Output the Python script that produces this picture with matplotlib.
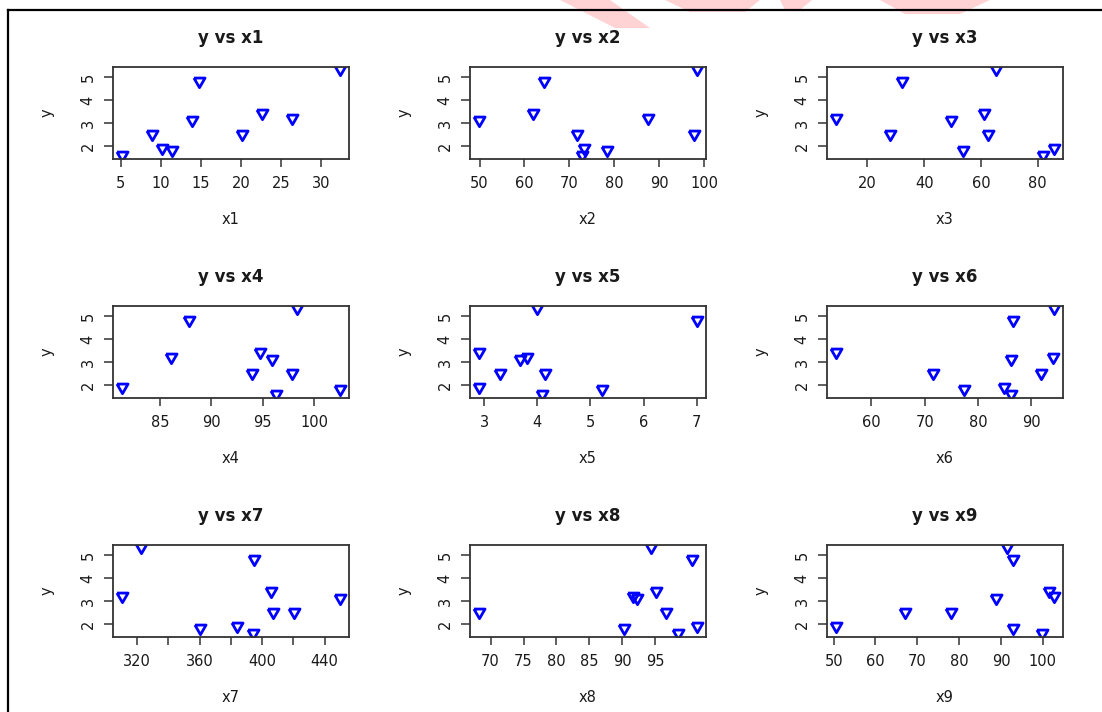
import numpy as np
import matplotlib
matplotlib.use("Agg")
import matplotlib.pyplot as plt
from matplotlib.lines import Line2D
from matplotlib.patches import Polygon

# response, same order for every predictor
y = [1.6, 1.8, 1.9, 2.5, 2.5, 3.1, 3.2, 3.4, 4.8, 5.3]

x1 = [5.1, 11.4, 10.1, 8.9, 20.1, 13.9, 26.3, 22.6, 14.7, 32.3]
x2 = [72.8, 78.3, 73.2, 71.6, 97.8, 49.8, 87.6, 61.9, 64.3, 98.4]
x3 = [81.8, 53.8, 85.7, 27.9, 62.6, 49.6, 8.8, 61.2, 32.3, 65.3]
x4 = [96.3, 102.5, 81.3, 94.0, 97.9, 95.9, 86.1, 94.7, 87.8, 98.3]
x5 = [4.09, 5.21, 2.90, 3.30, 4.14, 3.68, 3.81, 2.90, 7.0, 4.0]
x6 = [86.2, 77.3, 84.9, 71.6, 91.8, 86.2, 94.1, 53.3, 86.5, 94.2]
x7 = [394.0, 360.5, 383.7, 407.1, 420.6, 449.7, 310.1, 405.8, 395.0, 322.4]
x8 = [98.5, 90.25, 101.3, 68.2, 96.6, 92.3, 91.6, 95.05, 100.6, 94.4]
x9 = [99.8, 92.8, 50.5, 67.0, 78.0, 88.8, 102.6, 101.4, 92.8, 91.5]

names = ["x1", "x2", "x3", "x4", "x5", "x6", "x7", "x8", "x9"]
xs = [x1, x2, x3, x4, x5, x6, x7, x8, x9]

xticks = [
    [5, 10, 15, 20, 25, 30],
    [50, 60, 70, 80, 90, 100],
    [20, 40, 60, 80],
    [85, 90, 95, 100],
    [3, 4, 5, 6, 7],
    [60, 70, 80, 90],
    [320, 340, 360, 380, 400, 420, 440],
    [70, 75, 80, 85, 90, 95],
    [50, 60, 70, 80, 90, 100],
]
yticks = [2, 3, 4, 5]

W, H = 1102, 712
fig = plt.figure(figsize=(W / 100, H / 100), dpi=100)
fig.patch.set_facecolor("white")

# triangle pointing down, like R pch = 6
tri = [(-1, 0.8), (1, 0.8), (0, -0.93), (-1, 0.8)]

col_left = [113, 470, 827]
row_top = [67, 306, 545]
aw, ah = 235.5, 92

txt = "#1a1a1a"


def pad4(v):
    lo, hi = min(v), max(v)
    d = (hi - lo) * 0.04
    return lo - d, hi + d


for i, (name, xv) in enumerate(zip(names, xs)):
    r, c = divmod(i, 3)
    ax = fig.add_axes([col_left[c] / W, 1 - (row_top[r] + ah) / H, aw / W, ah / H])
    ax.plot(xv, y, linestyle="none", marker=tri, markersize=8,
            markerfacecolor="none", markeredgecolor="#0000ff", markeredgewidth=2.0)
    ax.set_xlim(*pad4(xv))
    ax.set_ylim(*pad4(y))
    ax.set_xticks(xticks[i])
    if name == "x7":
        ax.set_xticklabels([str(t) if t % 40 == 0 else "" for t in xticks[i]])
    ax.set_yticks(yticks)
    ax.set_yticklabels([str(t) for t in yticks], rotation=90, va="center")
    ax.tick_params(axis="x", length=5.5, width=1.1, pad=7, labelsize=10.5,
                   colors="#333333", labelcolor=txt)
    ax.tick_params(axis="y", length=6.5, width=1.1, pad=6, labelsize=10.5,
                   colors="#333333", labelcolor=txt)
    for s in ax.spines.values():
        s.set_color("#333333")
        s.set_linewidth(1.3)
    ax.set_xlabel(name, fontsize=10.5, color=txt, labelpad=15)
    ax.set_ylabel("y", fontsize=10.5, color=txt, labelpad=19)
    ax.set_title(f"y vs {name}", fontsize=12, fontweight="bold", color=txt, pad=17)

# outer frame of the screenshot
fig.add_artist(Line2D([8 / W, 8 / W], [0, 1 - 10 / H], color="black", linewidth=1.6))
fig.add_artist(Line2D([8 / W, 1], [1 - 10 / H, 1 - 10 / H], color="black", linewidth=1.6))

# faint watermark pieces at the top edge
wm = [
    [(560, 0), (610, 0), (650, 28), (615, 28)],
    [(665, 0), (760, 0), (745, 12), (690, 12)],
    [(780, 0), (812, 0), (800, 10), (785, 10)],
    [(880, 0), (990, 0), (960, 14), (905, 14)],
]
for pts in wm:
    fig.add_artist(Polygon([(px / W, 1 - py / H) for px, py in pts], closed=True,
                           facecolor="#ff3b3b", edgecolor="none", alpha=0.22,
                           transform=fig.transFigure))

fig.savefig("out.png", dpi=100)
